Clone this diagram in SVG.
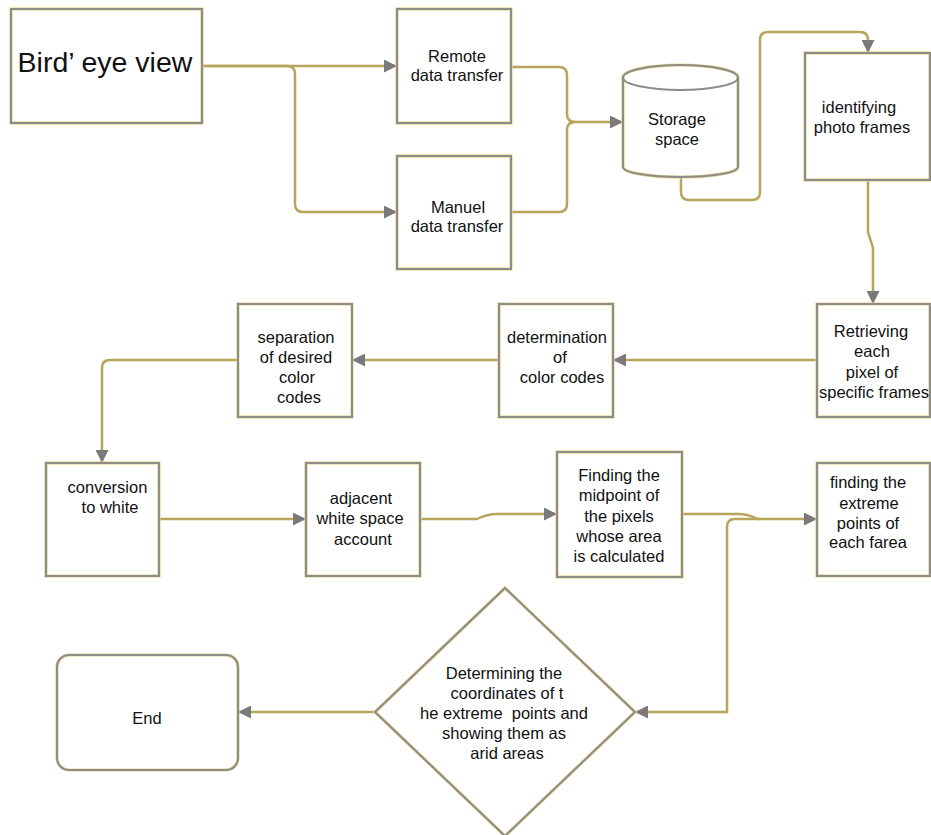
<svg xmlns="http://www.w3.org/2000/svg" width="931" height="835" viewBox="0 0 931 835">
<style>
.box{fill:#fff;stroke:#e3d68e;stroke-width:3.2}
.box2{fill:none;stroke:#8e8c88;stroke-width:2}
.c{fill:none;stroke:#b8a55c;stroke-width:2.5}
text{font-family:"Liberation Sans",Arial,sans-serif;font-size:16.5px;fill:#111;text-anchor:middle}
</style>
<defs>
<marker id="a" markerUnits="userSpaceOnUse" markerWidth="13" markerHeight="13" viewBox="0 0 13 13" refX="13" refY="6.5" orient="auto">
<path d="M0 0 L13 6.5 L0 13 Z" fill="#7a7a7a"/>
</marker>
</defs>
<g id="connectors">
<path class="c" d="M202 66 H397" marker-end="url(#a)"/>
<path class="c" d="M202 66 H287 Q295 66 295 74 V204 Q295 212 303 212 H397" marker-end="url(#a)"/>
<path class="c" d="M511 67 H559 Q567 67 567 75 V114 Q567 122 575 122 H623" marker-end="url(#a)"/>
<path class="c" d="M511 212 H559 Q567 212 567 204 V130 Q567 122 575 122"/>
<path class="c" d="M681 170 V192 Q681 200 689 200 H752 Q760 200 760 192 V40 Q760 32 768 32 H860 Q868 32 868 40 V53" marker-end="url(#a)"/>
<path class="c" d="M868 180 V232 L873 248 V304" marker-end="url(#a)"/>
<path class="c" d="M817 360 H613" marker-end="url(#a)"/>
<path class="c" d="M499 360 H352" marker-end="url(#a)"/>
<path class="c" d="M238 360 H110 Q102 360 102 368 V463" marker-end="url(#a)"/>
<path class="c" d="M159 519 H306" marker-end="url(#a)"/>
<path class="c" d="M420 519 H477 Q487 514 497 514 H557" marker-end="url(#a)"/>
<path class="c" d="M682 514 H738 Q748 514 758 519 H817" marker-end="url(#a)"/>
<path class="c" d="M760 519 H735 Q727 519 727 527 V712 H635" marker-end="url(#a)"/>
<path class="c" d="M375 712 H238" marker-end="url(#a)"/>
</g>
<g id="bird">
<rect class="box" x="11" y="9" width="191" height="114"/>
<rect class="box2" x="11" y="9" width="191" height="114"/>
<text x="105" y="72" style="font-size:28.5px">Bird’ eye view</text>
</g>
<g id="remote">
<rect class="box" x="397" y="9" width="114" height="114"/>
<rect class="box2" x="397" y="9" width="114" height="114"/>
<text x="457" y="62">Remote</text>
<text x="457" y="81">data transfer</text>
</g>
<g id="manuel">
<rect class="box" x="397" y="156" width="114" height="113"/>
<rect class="box2" x="397" y="156" width="114" height="113"/>
<text x="458" y="213">Manuel</text>
<text x="457" y="232">data transfer</text>
</g>
<g id="storage">
<path class="box" d="M623 77.5 A57.5 12.5 0 0 1 738 77.5 V167 A57.5 10 0 0 1 623 167 Z"/>
<path class="box2" d="M623 77.5 A57.5 12.5 0 0 1 738 77.5 V167 A57.5 10 0 0 1 623 167 Z"/>
<path class="box2" d="M623 77.5 A57.5 12.5 0 0 0 738 77.5"/>
<text x="677" y="125">Storage</text>
<text x="677" y="145">space</text>
</g>
<g id="identifying">
<rect class="box" x="805" y="53" width="125" height="127"/>
<rect class="box2" x="805" y="53" width="125" height="127"/>
<text x="859" y="113">identifying</text>
<text x="862" y="133">photo frames</text>
</g>
<g id="retrieving">
<rect class="box" x="817" y="304" width="113" height="113"/>
<rect class="box2" x="817" y="304" width="113" height="113"/>
<text x="871" y="337">Retrieving</text>
<text x="872" y="357">each</text>
<text x="872" y="378">pixel of</text>
<text x="874" y="398">specific frames</text>
</g>
<g id="determination">
<rect class="box" x="499" y="304" width="114" height="113"/>
<rect class="box2" x="499" y="304" width="114" height="113"/>
<text x="557" y="343">determination</text>
<text x="560" y="363">of</text>
<text x="562" y="383">color codes</text>
</g>
<g id="separation">
<rect class="box" x="238" y="304" width="114" height="113"/>
<rect class="box2" x="238" y="304" width="114" height="113"/>
<text x="296" y="343">separation</text>
<text x="296" y="363">of desired</text>
<text x="297" y="383">color</text>
<text x="299" y="403">codes</text>
</g>
<g id="conversion">
<rect class="box" x="46" y="463" width="113" height="113"/>
<rect class="box2" x="46" y="463" width="113" height="113"/>
<text x="107.5" y="493">conversion</text>
<text x="110" y="513">to white</text>
</g>
<g id="adjacent">
<rect class="box" x="306" y="463" width="114" height="113"/>
<rect class="box2" x="306" y="463" width="114" height="113"/>
<text x="361" y="504">adjacent</text>
<text x="360" y="524">white space</text>
<text x="363" y="545">account</text>
</g>
<g id="finding">
<rect class="box" x="557" y="452" width="125" height="125"/>
<rect class="box2" x="557" y="452" width="125" height="125"/>
<text x="619" y="481">Finding the</text>
<text x="619" y="501">midpoint of</text>
<text x="619" y="522">the pixels</text>
<text x="619" y="542">whose area</text>
<text x="619" y="562">is calculated</text>
</g>
<g id="extreme">
<rect class="box" x="817" y="463" width="113" height="113"/>
<rect class="box2" x="817" y="463" width="113" height="113"/>
<text x="868" y="488">finding the</text>
<text x="869" y="509">extreme</text>
<text x="868" y="529">points of</text>
<text x="868" y="548">each farea</text>
</g>
<g id="decision">
<path class="box" d="M505 588 L635 712 L505 836 L375 712 Z"/>
<path class="box2" d="M505 588 L635 712 L505 836 L375 712 Z"/>
<text x="504" y="679">Determining the</text>
<text x="507" y="699">coordinates of t</text>
<text x="504" y="719" xml:space="preserve">he extreme  points and</text>
<text x="504" y="739">showing them as</text>
<text x="507" y="759">arid areas</text>
</g>
<g id="end">
<rect class="box" x="57" y="655" width="181" height="115" rx="12"/>
<rect class="box2" x="57" y="655" width="181" height="115" rx="12"/>
<text x="147" y="724">End</text>
</g>
</svg>
